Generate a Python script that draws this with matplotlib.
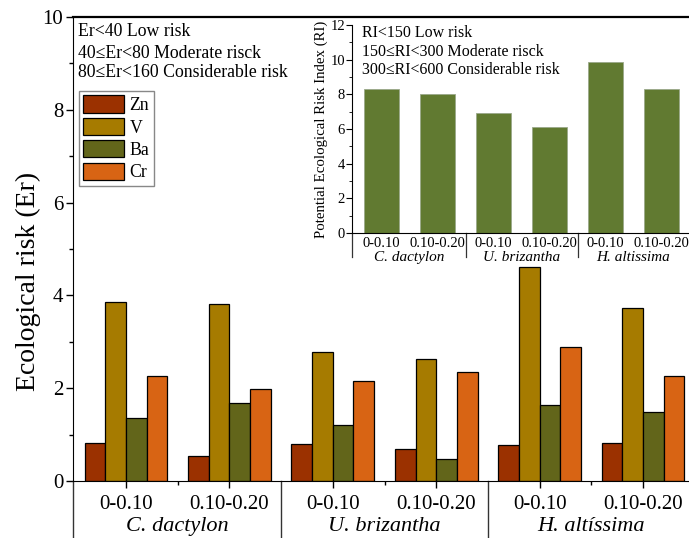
import numpy as np
import matplotlib.pyplot as plt
from matplotlib.ticker import MultipleLocator

plt.rcParams['font.family'] = 'Liberation Serif'

# data
depths = ["0-0.10", "0.10-0.20"] * 3
species = ["C. dactylon", "U. brizantha", "H. alt\u00edssima"]
species_inset = ["C. dactylon", "U. brizantha", "H. altissima"]
metals = ["Zn", "V", "Ba", "Cr"]
zn = [0.82, 0.54, 0.79, 0.69, 0.78, 0.81]
v = [3.86, 3.81, 2.78, 2.62, 4.61, 3.72]
ba = [1.36, 1.68, 1.21, 0.47, 1.63, 1.49]
cr = [2.26, 1.99, 2.15, 2.34, 2.89, 2.26]
ri = [8.29, 8.01, 6.92, 6.13, 9.88, 8.29]

colors = ["#9b3100", "#a67b00", "#62651a", "#d86414"]
ri_color = "#617a31"

fig = plt.figure(figsize=(6.89, 5.38), dpi=100)
W, H = 689.0, 538.0

# main axes
ax = fig.add_axes([73/W, 1-481/H, 1-73/W, (481-17)/H])
x = np.arange(1, 7)
bw = 0.2
for i, (vals, c, lab) in enumerate(zip([zn, v, ba, cr], colors, metals)):
    ax.bar(x + (i-1.5)*bw, vals, bw, color=c, edgecolor='black', linewidth=0.9, label=lab)

ax.set_xlim(1-(126-73)/103.4, 1+(689-126)/103.4)
ax.set_ylim(0, 10)
ax.spines['right'].set_visible(False)
ax.spines['top'].set_linewidth(1.6)
ax.yaxis.set_major_locator(MultipleLocator(2))
ax.yaxis.set_minor_locator(MultipleLocator(1))
ax.set_xticks(x)
ax.set_xticklabels(depths, fontsize=15)
ax.set_xticks([1.5, 3.5, 5.5], minor=True)
ax.tick_params(axis='both', which='major', direction='out', length=5, width=1)
ax.tick_params(axis='both', which='minor', direction='out', length=3, width=1)
ax.tick_params(axis='y', labelsize=15, pad=2)
ax.tick_params(axis='x', pad=5)
ax.set_ylabel("Ecological risk (Er)", fontsize=20)
ax.yaxis.set_label_coords(-0.052, 0.43)

trans = ax.get_xaxis_transform()
for xs in [ax.get_xlim()[0], 2.5, 4.5]:
    ax.plot([xs, xs], [0, -0.125], color='#333333', lw=1, transform=trans, clip_on=False)
for xc, sp in zip([1.5, 3.5, 5.5], species):
    ax.text(xc, -0.099, sp, transform=trans, ha='center', va='center', fontsize=16, style='italic')

ax.text(78/W, 1-32/H, "Er<40 Low risk", transform=fig.transFigure, fontsize=12.8, va='center')
ax.text(78/W, 1-53/H, "40\u2264Er<80 Moderate risck", transform=fig.transFigure, fontsize=12.8, va='center')
ax.text(78/W, 1-73/H, "80\u2264Er<160 Considerable risk", transform=fig.transFigure, fontsize=12.8, va='center')

leg = ax.legend(loc='upper left', bbox_to_anchor=(79/W, 1-91/H), bbox_transform=fig.transFigure,
                fontsize=12.8, fancybox=False, edgecolor='#888888', framealpha=1,
                handlelength=2.3, handleheight=1.1, labelspacing=0.22, handletextpad=0.3,
                borderpad=0.25, borderaxespad=0)
leg.get_frame().set_linewidth(1)

# inset axes
ins = fig.add_axes([352/W, 1-233/H, 1-352/W, (233-25)/H])
ins.bar(x, ri, 0.62, color=ri_color, edgecolor='#9aa88a', linewidth=0.6)
ins.set_xlim(1-(381.5-352)/56, 1+(689-381.5)/56)
ins.set_ylim(0, 12)
ins.spines['right'].set_visible(False)
ins.spines['top'].set_visible(False)
ins.yaxis.set_major_locator(MultipleLocator(2))
ins.yaxis.set_minor_locator(MultipleLocator(1))
ins.set_xticks(x)
ins.set_xticklabels(depths, fontsize=10.5)
ins.tick_params(axis='x', length=0, pad=3)
ins.tick_params(axis='y', which='major', direction='out', length=4, labelsize=10.5, pad=1)
ins.tick_params(axis='y', which='minor', direction='out', length=2)
ins.set_ylabel("Potential Ecological Risk Index (RI)", fontsize=10.7, labelpad=2)

itrans = ins.get_xaxis_transform()
for xs in [ins.get_xlim()[0], 2.5, 4.5]:
    ins.plot([xs, xs], [0, -0.115], color='#333333', lw=0.9, transform=itrans, clip_on=False)
for xc, sp in zip([1.5, 3.5, 5.5], species_inset):
    ins.text(xc, -0.12, sp, transform=itrans, ha='center', va='center', fontsize=11, style='italic')

ins.text(362/W, 1-33/H, "RI<150 Low risk", transform=fig.transFigure, fontsize=11.5, va='center')
ins.text(362/W, 1-52/H, "150\u2264RI<300 Moderate risck", transform=fig.transFigure, fontsize=11.5, va='center')
ins.text(362/W, 1-70/H, "300\u2264RI<600 Considerable risk", transform=fig.transFigure, fontsize=11.5, va='center')

plt.savefig('out.png', dpi=100)
